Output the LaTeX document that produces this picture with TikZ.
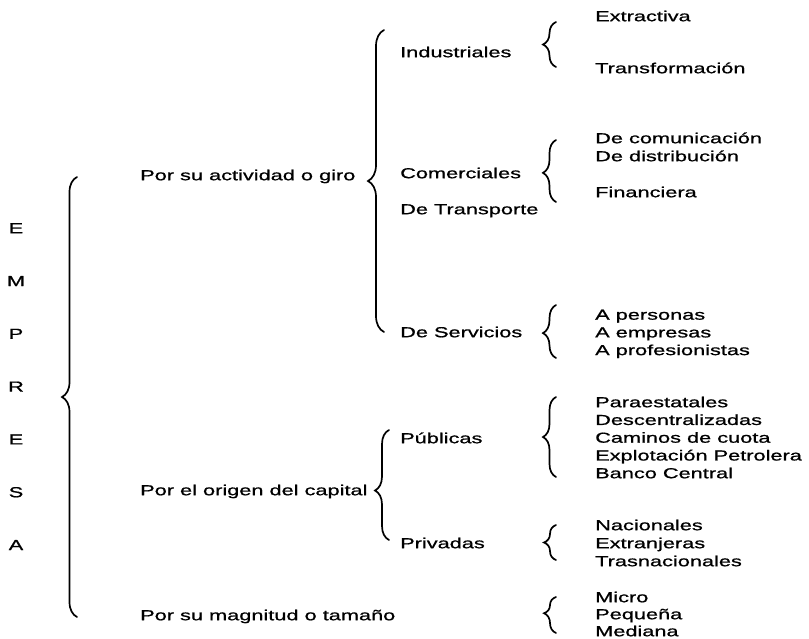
\documentclass[tikz,border=0pt]{standalone}
\usepackage{fontspec}
\setmainfont[FakeStretch=1.5,FakeBold=0.9]{Liberation Sans}
\usetikzlibrary{positioning,decorations.pathreplacing}

\begin{document}
\begin{tikzpicture}
    [x=1pt,y=-1pt,
     lbl/.style={anchor=west,inner sep=0pt,text height=10.4pt,text depth=0pt,
       font=\fontsize{14.5pt}{17.7pt}\selectfont},
     llave/.style={decorate,decoration={brace,amplitude=#1},line width=1.7pt,line cap=round},
     llave/.default=13pt]
    \useasboundingbox (0,0) rectangle (809,638);

    % EMPRESA
    \foreach \l [count=\i] in {E,M,P,R,E,S,A}
      \node[lbl,anchor=center] (emp\i) at (16,228+52.8*\i-52.8) {\l};

    % primer nivel
    \node[lbl] (act) at (140,175) {Por su actividad o giro};
    \node[lbl] (ori) at (140,490) {Por el origen del capital};
    \node[lbl] (mag) at (140,615) {Por su magnitud o tamaño};

    % segundo nivel
    \node[lbl] (ind) at (400,52) {Industriales};
    \node[lbl] (com) at (400,173) {Comerciales};
    \node[lbl] (tra) at (400,209) {De Transporte};
    \node[lbl] (ser) at (400,332) {De Servicios};
    \node[lbl] (pub) at (400,438) {Públicas};
    \node[lbl] (pri) at (400,543) {Privadas};

    % tercer nivel
    \node[lbl] (ext) at (595,16) {Extractiva};
    \node[lbl] (trf) at (595,68) {Transformación};
    \node[lbl] (dcom) at (595,138) {De comunicación};
    \node[lbl] (ddis) at (595,156) {De distribución};
    \node[lbl] (fin) at (595,192) {Financiera};
    \foreach \t [count=\i] in {A personas,A empresas,A profesionistas}
      \node[lbl] (ser\i) at (595,314.5+17.7*\i-17.7) {\t};
    \foreach \t [count=\i] in {Paraestatales,Descentralizadas,Caminos de cuota,
        Explotación Petrolera,Banco Central}
      \node[lbl] (pub\i) at (595,402+17.75*\i-17.75) {\t};
    \foreach \t [count=\i] in {Nacionales,Extranjeras,Trasnacionales}
      \node[lbl] (pri\i) at (595,525+18*\i-18) {\t};
    \foreach \t [count=\i] in {Micro,Pequeña,Mediana}
      \node[lbl] (mag\i) at (595,597+17*\i-17) {\t};

    % llaves
    \coordinate (empA) at (77,617);  \coordinate (empB) at (77,177);
    \coordinate (actA) at (384,332); \coordinate (actB) at (384,30);
    \coordinate (oriA) at (389,540); \coordinate (oriB) at (389,430);
    \coordinate (indA) at (556,67);  \coordinate (indB) at (556,22);
    \coordinate (comA) at (556,202); \coordinate (comB) at (556,140);
    \coordinate (serA) at (556,358); \coordinate (serB) at (556,305);
    \coordinate (pubA) at (556,477); \coordinate (pubB) at (556,397);
    \coordinate (priA) at (556,560); \coordinate (priB) at (556,525);
    \coordinate (magA) at (556,633); \coordinate (magB) at (556,597);

    \draw[llave=15pt] (empA) -- (empB);
    \draw[llave=16pt] (actA) -- (actB);
    \draw[llave=14pt,decoration={aspect=0.45}] (oriA) -- (oriB);
    \draw[llave] (indA) -- (indB);
    \draw[llave,decoration={aspect=0.47}] (comA) -- (comB);
    \draw[llave,decoration={aspect=0.47}] (serA) -- (serB);
    \draw[llave] (pubA) -- (pubB);
    \draw[llave=12pt] (priA) -- (priB);
    \draw[llave=12pt,decoration={aspect=0.55}] (magA) -- (magB);
\end{tikzpicture}
\end{document}
